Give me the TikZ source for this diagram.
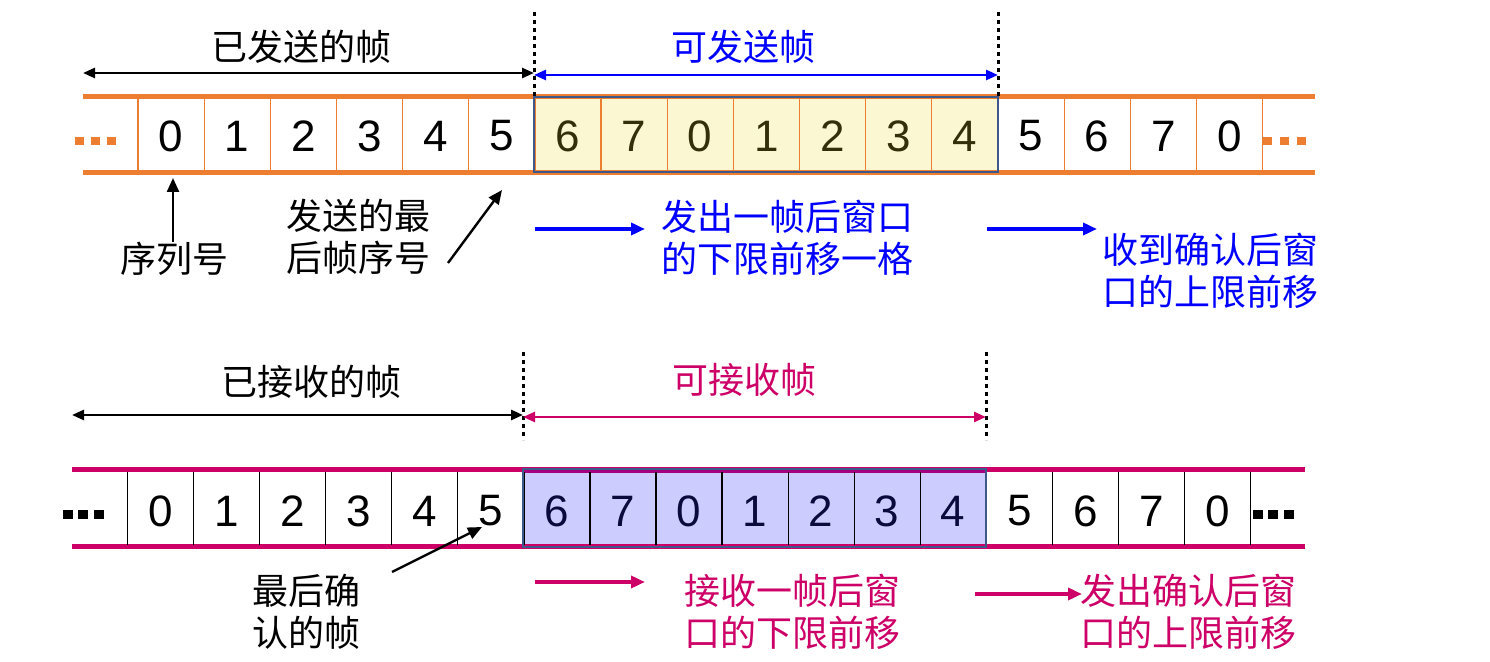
\documentclass[tikz,border=0pt]{standalone}
\usepackage{fontspec}
\setmainfont{Liberation Sans}
\newfontfamily\cjk{Noto Sans CJK SC}
\usetikzlibrary{arrows.meta}

\definecolor{tapeorange}{RGB}{237,125,49}
\definecolor{tapemag}{RGB}{204,0,102}
\definecolor{winpurple}{RGB}{165,0,130}
\definecolor{winyellow}{RGB}{251,247,211}
\definecolor{winlilac}{RGB}{204,204,255}
\definecolor{winborder}{RGB}{61,89,140}
\definecolor{sendblue}{RGB}{0,0,255}
\definecolor{darkolive}{RGB}{51,47,10}
\definecolor{darknavy}{RGB}{10,10,60}

\begin{document}
\begin{tikzpicture}[x=0.5pt,y=0.5pt,yscale=-1,xscale=1,
  num/.style={font=\fontsize{22}{26}\selectfont,inner sep=0pt},
  lbl/.style={font=\cjk\fontsize{18}{21}\selectfont,inner sep=0pt,align=left},
  tape/.style={line width=2.5pt},
  bound/.style={line width=1.5pt,dash pattern=on 2pt off 2pt},
  span/.style={line width=1.3pt,{Triangle[length=6pt,width=5pt]}-{Triangle[length=6pt,width=5pt]}},
  point/.style={line width=1.2pt,-{Triangle[length=7pt,width=6pt]}},
  move/.style={line width=2pt,-{Triangle[length=7pt,width=6pt]}}]
\useasboundingbox (0,0) rectangle (1490,662);

%Sending window
\fill [winyellow] (534,97) rectangle (998,173);
\draw [tape,tapeorange] (83,97) -- (1315,97);
\draw [tape,tapeorange] (83,173) -- (1315,173);
\foreach \k in {0,...,17}
  \draw [tapeorange,line width=0.6pt] (138+66.15*\k,99) -- ++(0,72);
\draw [winborder,line width=1.2pt] (534,97) rectangle (998,172);
\foreach \d/\c [count=\i from 0] in {0/black,1/black,2/black,3/black,4/black,5/black,6/darkolive,7/darkolive,0/darkolive,1/darkolive,2/darkolive,3/darkolive,4/darkolive,5/black,6/black,7/black,0/black}
  \node [num,text=\c] (t\i) at (171+66.15*\i,136) {\d};
\foreach \x in {75,91,107,1263,1280,1297}
  \fill [tapeorange] (\x,137) rectangle ++(9,8);

%Dotted window limits (sender)
\coordinate (sl) at (534,12);
\coordinate (sr) at (998,12);
\draw [bound] (sl) -- (534,97);
\draw [bound] (sr) -- (998,97);
\coordinate (sa) at (83,73);
\coordinate (sb) at (534,73);
\coordinate (sc) at (534,75);
\coordinate (sd) at (998,75);
\draw [span] (sa) -- (sb);
\draw [span,sendblue] (sc) -- (sd);

%Sender labels
\node [lbl] (sent) at (301,47) {已发送的帧};
\node [lbl,text=sendblue] (cansend) at (743,47) {可发送帧};
\node [lbl] (seqno) at (174,259) {序列号};
\node [lbl] (lastsent) at (358,237) {发送的最\\后帧序号};
\node [lbl,text=sendblue] (lowmove) at (787,238) {发出一帧后窗口\\的下限前移一格};
\node [lbl,text=sendblue] (upmove) at (1210,271) {收到确认后窗\\口的上限前移};

\coordinate (seqtip) at (173,178);
\coordinate (lsfrom) at (448,263);
\coordinate (lstip) at (502,190);
\coordinate (lowfrom) at (535,229);
\coordinate (lowtip) at (645,229);
\coordinate (upfrom) at (987,229);
\coordinate (uptip) at (1097,229);
\draw [point] (seqtip |- seqno.north) -- (seqtip);
\draw [point] (lsfrom) -- (lstip);
\draw [move,sendblue] (lowfrom) -- (lowtip);
\draw [move,sendblue] (upfrom) -- (uptip);

%Receiving window
\fill [winlilac] (523,470) rectangle (986,547);
\draw [tape,tapemag] (72,470) -- (1305,470);
\draw [tape,tapemag] (72,547) -- (1305,547);
\draw [tape,winpurple] (523,471) -- (986,471);
\foreach \k in {0,...,17}
  \draw [black,line width=0.6pt] (127.6+66.05*\k,472) -- ++(0,73);
\draw [winborder,line width=1.2pt] (523,469) rectangle (986,547);
\foreach \d/\c [count=\i from 0] in {0/black,1/black,2/black,3/black,4/black,5/black,6/darknavy,7/darknavy,0/darknavy,1/darknavy,2/darknavy,3/darknavy,4/darknavy,5/black,6/black,7/black,0/black}
  \node [num,text=\c] (b\i) at (160.6+66.05*\i,511) {\d};
\foreach \x in {63,78,94,1253,1268,1284}
  \fill [black] (\x,510) rectangle ++(10,9);

%Dotted window limits (receiver)
\coordinate (rl) at (523,352);
\coordinate (rr) at (986,352);
\draw [bound] (rl) -- (523,440);
\draw [bound] (rr) -- (986,440);
\coordinate (ra) at (72,415);
\coordinate (rb) at (523,415);
\coordinate (rc) at (523,417);
\coordinate (rd) at (986,417);
\draw [span] (ra) -- (rb);
\draw [span,tapemag] (rc) -- (rd);

%Receiver labels
\node [lbl] (recvd) at (311,382) {已接收的帧};
\node [lbl,text=tapemag] (canrecv) at (744,380) {可接收帧};
\node [lbl] (lastack) at (306,612) {最后确\\认的帧};
\node [lbl,text=tapemag] (rlow) at (792,612) {接收一帧后窗\\口的下限前移};
\node [lbl,text=tapemag] (rup) at (1188,612) {发出确认后窗\\口的上限前移};

\coordinate (lafrom) at (392,572);
\coordinate (latip) at (482,527);
\coordinate (rlowfrom) at (535,582);
\coordinate (rlowtip) at (645,582);
\coordinate (rupfrom) at (975,594);
\coordinate (ruptip) at (1082,594);
\draw [point] (lafrom) -- (latip);
\draw [move,tapemag] (rlowfrom) -- (rlowtip);
\draw [move,tapemag] (rupfrom) -- (ruptip);

\end{tikzpicture}
\end{document}
